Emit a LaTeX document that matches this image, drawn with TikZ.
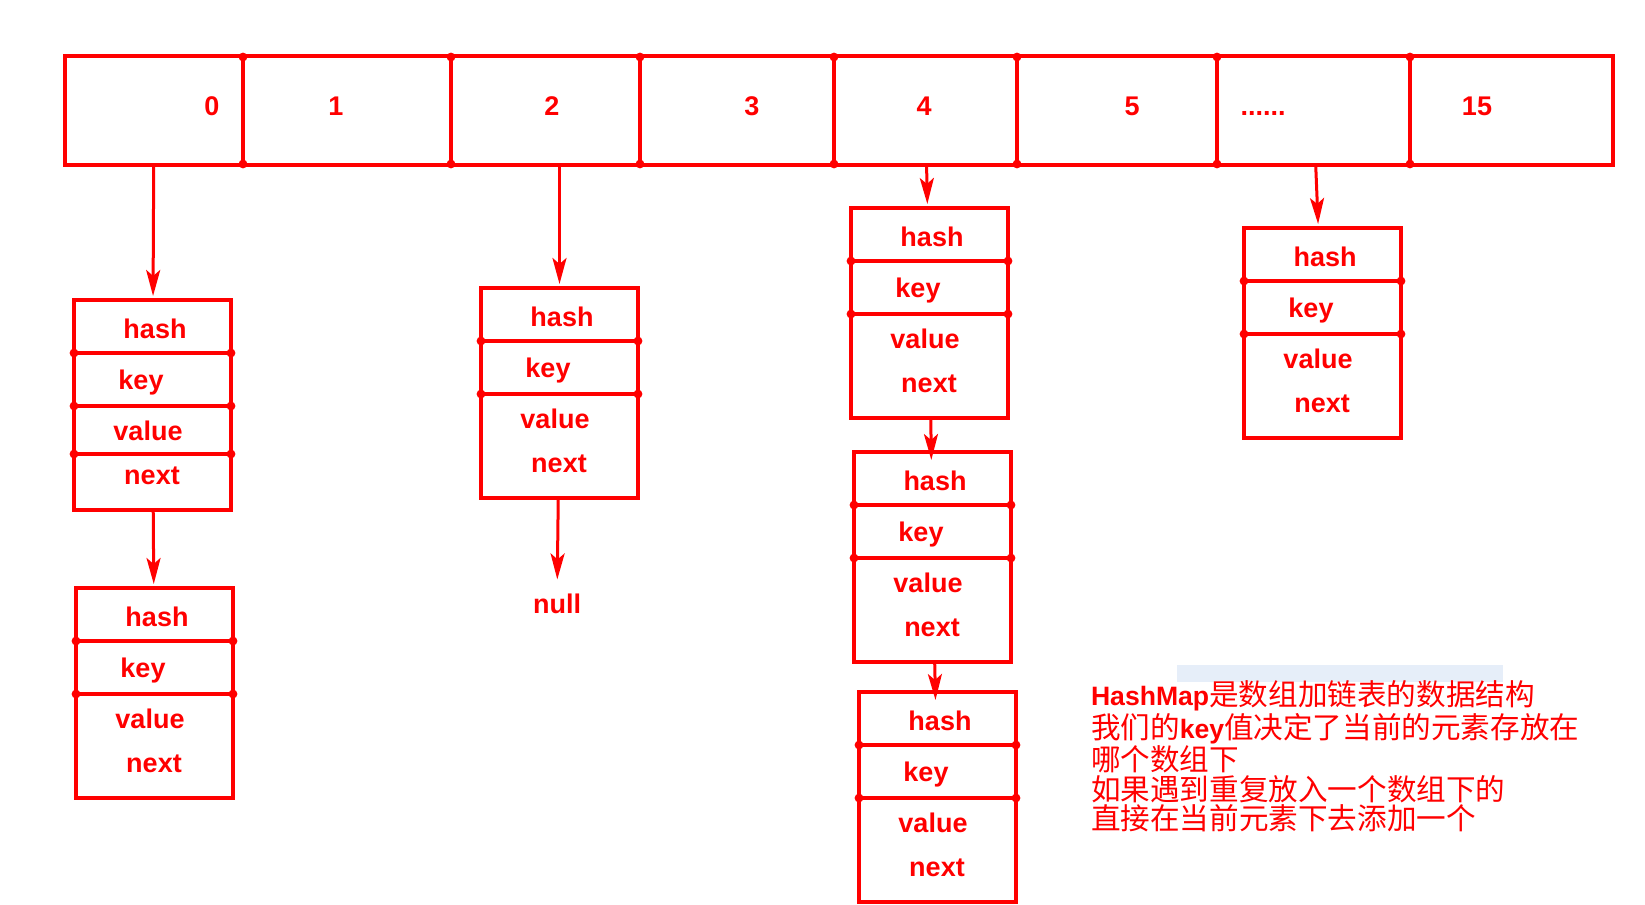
\documentclass[tikz,border=0pt]{standalone}
\usepackage{fontspec}
\setmainfont{Liberation Sans}
\newfontfamily\cjk{Noto Sans CJK SC}
\usetikzlibrary{arrows.meta,shadows}

\def\boxw{157}
\def\etcdots{......}
\def\latinb{\normalfont\bfseries\fontsize{13.3}{14.7}\selectfont}
\definecolor{notebg}{HTML}{E6EEF9}

\begin{document}
\begin{tikzpicture}[x=0.5pt,y=-0.5pt,line width=2pt,draw=red]
    \tikzstyle{cell}=[draw=red,line width=2pt,fill=white,inner sep=0pt,outer sep=0pt,
        minimum height=54.5pt,drop shadow={shadow xshift=1.2pt,shadow yshift=-1.2pt,opacity=.3}]
    \tikzstyle{entry}=[cell,anchor=north west,minimum width=78.5pt,minimum height=105pt]
    \tikzstyle{field}=[text=red,font=\fontsize{13.5}{16}\selectfont\bfseries,inner sep=0pt,anchor=base]
    \tikzstyle{link}=[draw=red,line width=1.5pt,shorten >=2pt,-{Stealth[length=13pt,width=7pt,inset=3pt]}]

    \useasboundingbox (0,0) rectangle (1645,905);

    % Draw the array cells
    \foreach \i/\l/\r/\t/\tx in {0/65/243/0/212, 1/243/451/1/336, 2/451/640/2/552,
        3/640/834/3/752, 4/834/1017/4/924, 5/1017/1217/5/1132,
        6/1217/1410/\etcdots/1263, 7/1410/1613/15/1477}
    {
        \node[cell,minimum width={(\r-\l)*0.5pt}] (cell-\i) at ({(\l+\r)/2},110.5) {};
        \node[field] (num-\i) at (\tx,115) {\t};
    }
    \foreach \x in {243,451,640,834,1017,1217,1410}
        \fill[red] (\x,57) circle[radius=2.2pt] (\x,164) circle[radius=2.2pt];

    % Draw the entries (hash, key, value, next)
    \foreach \n/\x/\y/\cuts in {A/74/300/{53,106,154}, B/76/588/{53,106},
        C/481/288/{53,106}, D/851/208/{53,106}, E/854/452/{53,106},
        F/859/692/{53,106}, G/1244/228/{53,106}}
    {
        \begin{scope}[shift={(\x,\y)}]
            \node[entry] (\n) at (0,0) {};
            \foreach \c in \cuts {
                \draw[line width=2pt] (0,\c) -- (\boxw,\c);
                \fill[red] (0,\c) circle[radius=2.2pt] (\boxw,\c) circle[radius=2.2pt];
            }
            \node[field] (\n-hash) at (81,38) {hash};
            \node[field] (\n-key) at (67,89) {key};
            \node[field] (\n-value) at (74,140) {value};
            \node[field] (\n-next) at (78,184) {next};
        \end{scope}
    }
    \node[field] (null) at (557,613) {null};

    % Connect the array cells with the entries
    \draw[link] (cell-0) -- (A);
    \draw[link] (cell-2.south -| C.north) -- (C.north);
    \draw[link] (cell-4) -- (D);
    \draw[link] (cell-6) -- (G);

    % Connect the entries of one list
    \draw[link] (A) -- (B);
    \draw[link,shorten >=6pt] (C) -- (null);
    \draw[link,shorten >=-4pt] (D) -- (E);
    \draw[link,shorten >=-4pt] (E) -- (F);

    % Annotate the picture
    \fill[notebg] (1177,665) rectangle (1503,682);
    \node[anchor=north west,inner sep=0pt,align=left,text=red,font=\fontsize{14.8}{14.7}\cjk] (note) at (1089,679)
        {{\latinb HashMap}是数组加链表的数据结构\\我们的{\latinb key}值决定了当前的元素存放在\\哪个数组下\\如果遇到重复放入一个数组下的\\直接在当前元素下去添加一个};
\end{tikzpicture}
\end{document}
